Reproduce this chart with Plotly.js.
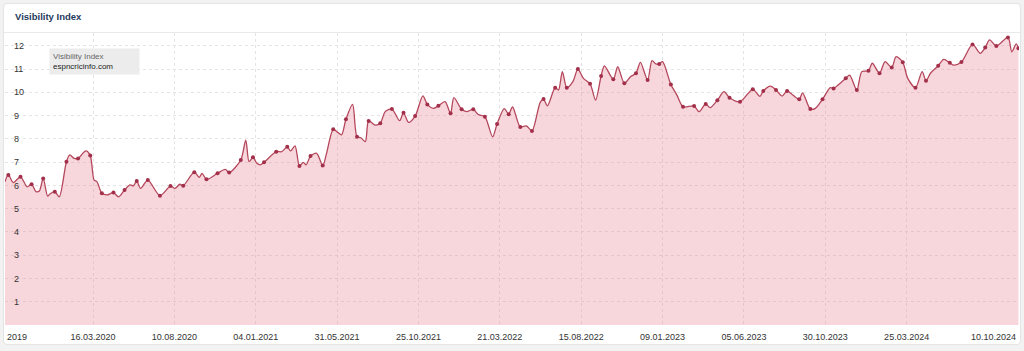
<!DOCTYPE html>
<html>
<head>
<meta charset="utf-8">
<script src="https://cdn.plot.ly/plotly-3.0.1.min.js"></script>
<style>
  html, body { margin:0; padding:0; background:#f2f2f2; width:1024px; height:351px; overflow:hidden; }
  #card { position:absolute; left:3px; top:3px; width:1016px; height:340px; background:#fff; border:1px solid #e4e4e4; border-radius:4px; }
  #sep { position:absolute; left:4px; top:32px; width:1016px; height:1px; background:#e9e9e9; }
  #chart { position:absolute; left:0; top:0; width:1024px; height:351px; }
</style>
</head>
<body>
<div id="card"></div>
<div id="sep"></div>
<div id="chart"></div>
<script>
// ---- data ----
const chartTitle = "Visibility Index";
const seriesName = "Visibility Index";
const domainName = "espncricinfo.com";

const dates = [
"2019-10-09","2019-10-15","2019-10-24","2019-11-06","2019-11-18","2019-11-26","2019-12-04","2019-12-10","2019-12-17","2019-12-25",
"2019-12-29","2020-01-07","2020-01-15","2020-01-28","2020-02-03","2020-02-11","2020-02-18","2020-03-03","2020-03-11","2020-03-18",
"2020-03-23","2020-04-01","2020-04-10","2020-04-22","2020-05-01","2020-05-12","2020-05-22","2020-05-28","2020-06-03","2020-06-10",
"2020-06-23","2020-07-15","2020-08-03","2020-08-11","2020-08-20","2020-08-26","2020-09-15","2020-09-24","2020-09-29","2020-10-07",
"2020-10-27","2020-11-10","2020-11-17","2020-12-08","2020-12-17","2020-12-23","2020-12-30","2021-01-06","2021-01-12","2021-01-19",
"2021-02-10","2021-02-20","2021-03-02","2021-03-08","2021-03-16","2021-03-24","2021-03-31","2021-04-05","2021-04-13","2021-04-24",
"2021-05-05","2021-05-12","2021-05-24","2021-06-01","2021-06-08","2021-06-16","2021-06-28","2021-07-06","2021-07-13","2021-07-21",
"2021-07-27","2021-08-08","2021-08-17","2021-08-26","2021-09-07","2021-09-21","2021-09-28","2021-10-07","2021-10-19","2021-11-02",
"2021-11-10","2021-11-21","2021-11-30","2021-12-12","2021-12-22","2021-12-28","2022-01-11","2022-01-20","2022-02-01","2022-02-10",
"2022-02-22","2022-03-08","2022-03-16","2022-03-29","2022-04-06","2022-04-13","2022-04-27","2022-05-08","2022-05-18","2022-06-02",
"2022-06-08","2022-06-15","2022-06-29","2022-07-05","2022-07-12","2022-07-20","2022-07-31","2022-08-09","2022-08-19","2022-08-31",
"2022-09-10","2022-09-20","2022-09-26","2022-10-12","2022-10-20","2022-11-01","2022-11-12","2022-11-22","2022-11-30","2022-12-13",
"2022-12-21","2022-12-28","2023-01-03","2023-01-09","2023-01-24","2023-02-04","2023-02-15","2023-03-07","2023-03-16","2023-03-28",
"2023-04-05","2023-04-18","2023-04-30","2023-05-10","2023-05-29","2023-06-21","2023-07-04","2023-07-10","2023-07-23","2023-08-02",
"2023-08-13","2023-08-22","2023-08-31","2023-09-13","2023-09-19","2023-10-03","2023-10-12","2023-10-25","2023-11-08","2023-11-14",
"2023-11-26","2023-12-06","2023-12-13","2023-12-26","2024-01-04","2024-01-16","2024-01-23","2024-02-05","2024-02-15","2024-02-27",
"2024-03-06","2024-03-18","2024-03-27","2024-04-10","2024-04-22","2024-04-29","2024-05-07","2024-05-21","2024-05-31","2024-06-11",
"2024-06-18","2024-07-02","2024-07-22","2024-08-05","2024-08-14","2024-08-22","2024-09-03","2024-09-24","2024-10-01","2024-10-09",
"2024-10-13"
];

const values = [
6.16,6.45,6.12,6.37,5.94,6.05,5.73,5.76,6.30,5.54,
5.63,5.73,5.51,7.02,7.31,7.16,7.16,7.48,7.28,6.23,
6.16,5.66,5.59,5.69,5.51,5.80,6.02,5.98,6.19,5.87,
6.23,5.56,5.97,5.87,6.05,5.99,6.57,6.35,6.52,6.26,
6.52,6.69,6.55,7.09,7.95,7.02,7.21,6.95,6.88,6.99,
7.45,7.45,7.66,7.48,7.70,6.83,6.99,6.88,7.26,7.38,
6.85,7.38,8.41,8.28,8.17,8.84,9.48,8.09,8.05,7.88,
8.77,8.59,8.67,9.17,9.28,8.78,9.12,8.71,8.98,9.85,
9.48,9.31,9.42,9.60,9.10,9.77,9.27,9.17,9.27,9.05,
8.95,8.09,8.64,9.30,9.06,9.37,8.51,8.56,8.34,9.57,
9.71,9.42,10.20,10.10,10.89,10.20,10.46,11.00,10.60,10.37,
9.67,10.70,11.14,10.56,11.10,10.39,10.67,10.82,11.29,10.53,
11.36,11.22,11.22,11.32,10.34,9.88,9.38,9.41,9.17,9.50,
9.34,9.66,10.03,9.77,9.60,10.13,9.83,10.06,10.27,10.10,
9.84,10.06,9.91,9.70,9.98,9.28,9.31,9.70,10.20,10.17,
10.39,10.60,10.74,10.10,10.89,10.93,11.25,10.82,11.32,11.07,
11.53,11.29,10.60,10.20,10.89,10.50,10.82,11.14,11.42,11.27,
11.17,11.30,12.06,11.68,11.93,12.25,11.99,12.36,11.74,12.08,
11.89
];

// dates that carry a dot in the reference
const markerDates = [
"2019-10-15","2019-11-06","2019-11-26","2019-12-17","2020-01-07","2020-01-28","2020-02-18","2020-03-11","2020-04-01","2020-04-22",
"2020-05-12","2020-06-03","2020-06-23","2020-07-15","2020-08-03","2020-08-26","2020-09-15","2020-10-07","2020-10-27","2020-11-17",
"2020-12-08","2020-12-30","2021-01-19","2021-02-10","2021-03-02","2021-03-24","2021-04-13","2021-05-05","2021-05-24","2021-06-16",
"2021-07-06","2021-07-27","2021-08-17","2021-09-07","2021-09-28","2021-10-19","2021-11-10","2021-11-30","2021-12-22","2022-01-11",
"2022-02-01","2022-02-22","2022-03-16","2022-04-06","2022-04-27","2022-05-18","2022-06-08","2022-06-29","2022-07-20","2022-08-09",
"2022-08-31","2022-09-20","2022-10-12","2022-11-01","2022-11-22","2022-12-13","2023-01-03","2023-01-24","2023-02-15","2023-03-07",
"2023-03-28","2023-04-18","2023-05-10","2023-05-29","2023-06-21","2023-07-10","2023-08-02","2023-08-22","2023-09-13","2023-10-03",
"2023-10-25","2023-11-14","2023-12-06","2023-12-26","2024-01-16","2024-02-05","2024-02-27","2024-03-18","2024-04-10","2024-04-29",
"2024-05-21","2024-06-11","2024-07-02","2024-07-22","2024-08-14","2024-09-03","2024-09-24","2024-10-13"
];

const tickLabels = ["16.03.2020","10.08.2020","04.01.2021","31.05.2021","25.10.2021","21.03.2022",
                    "15.08.2022","09.01.2023","05.06.2023","30.10.2023","25.03.2024"];
const firstLabel = "2019";
const lastLabel = "10.10.2024";
const yTicks = [1,2,3,4,5,6,7,8,9,10,11,12];
const xRange = ["2019-10-09","2024-10-14"];

// ---- build ----
const toIso = s => { const p = s.split("."); return p[2] + "-" + p[1] + "-" + p[0]; };
const valueByDate = {};
dates.forEach((d, i) => { valueByDate[d] = values[i]; });

const FONT = "Liberation Sans, Arial, Helvetica, sans-serif";
const GRID = "#e4e4e4";

const lineTrace = {
  x: dates, y: values, type: "scatter", mode: "lines",
  line: { color: "#b5475c", width: 1.3, shape: "spline", smoothing: 0.8 },
  fill: "tozeroy", fillcolor: "rgba(230,130,148,0.33)",
  hoverinfo: "skip", showlegend: false
};
const dotTrace = {
  x: markerDates, y: markerDates.map(d => valueByDate[d]), type: "scatter", mode: "markers",
  marker: { color: "#a3304a", size: 4 },
  hoverinfo: "skip", showlegend: false
};

const layout = {
  width: 1024, height: 351,
  margin: { l: 5, r: 5, t: 33, b: 26, pad: 0 },
  paper_bgcolor: "rgba(0,0,0,0)", plot_bgcolor: "rgba(0,0,0,0)",
  font: { family: FONT, size: 9, color: "#333" },
  title: {
    text: "<b>" + chartTitle + "</b>",
    font: { family: FONT, size: 9.5, color: "#1e3a5c" },
    xref: "container", yref: "container",
    x: 15 / 1024, xanchor: "left", y: 1 - 17 / 351, yanchor: "middle"
  },
  xaxis: {
    type: "date", range: xRange,
    tickmode: "array", tickvals: tickLabels.map(toIso), ticktext: tickLabels,
    ticks: "", showline: false, zeroline: false,
    showgrid: true, gridcolor: GRID, griddash: "3px,3px", gridwidth: 1,
    tickfont: { family: FONT, size: 9, color: "#333" },
    ticklabelstandoff: 5, fixedrange: true
  },
  yaxis: {
    range: [0, 12.55],
    tickmode: "array", tickvals: yTicks, ticktext: yTicks.map(String),
    ticklabelposition: "inside", ticks: "",
    showline: false, zeroline: false,
    showgrid: true, gridcolor: GRID, griddash: "3px,3px", gridwidth: 1,
    tickfont: { family: FONT, size: 9, color: "#333" },
    ticklabelstandoff: 6, fixedrange: true
  },
  annotations: [
    {
      xref: "paper", yref: "paper", x: 44 / 1014, y: (325 - 48) / 292,
      xanchor: "left", yanchor: "top", align: "left",
      text: "<span style='color:#666'>" + seriesName + "</span><br><span style='color:#222'>" + domainName + "</span>",
      showarrow: false, bgcolor: "#ececec", borderpad: 3, width: 83, height: 19,
      font: { family: FONT, size: 8 }
    },
    {
      xref: "paper", yref: "paper", x: 0, y: -12 / 292, xanchor: "left", yanchor: "middle",
      text: firstLabel, showarrow: false, font: { family: FONT, size: 9, color: "#333" }
    },
    {
      xref: "paper", yref: "paper", x: 1, xshift: -1, y: -12 / 292, xanchor: "right", yanchor: "middle",
      text: lastLabel, showarrow: false, font: { family: FONT, size: 9, color: "#333" }
    }
  ]
};

Plotly.newPlot("chart", [lineTrace, dotTrace], layout, { displayModeBar: false, staticPlot: true });
</script>
</body>
</html>
